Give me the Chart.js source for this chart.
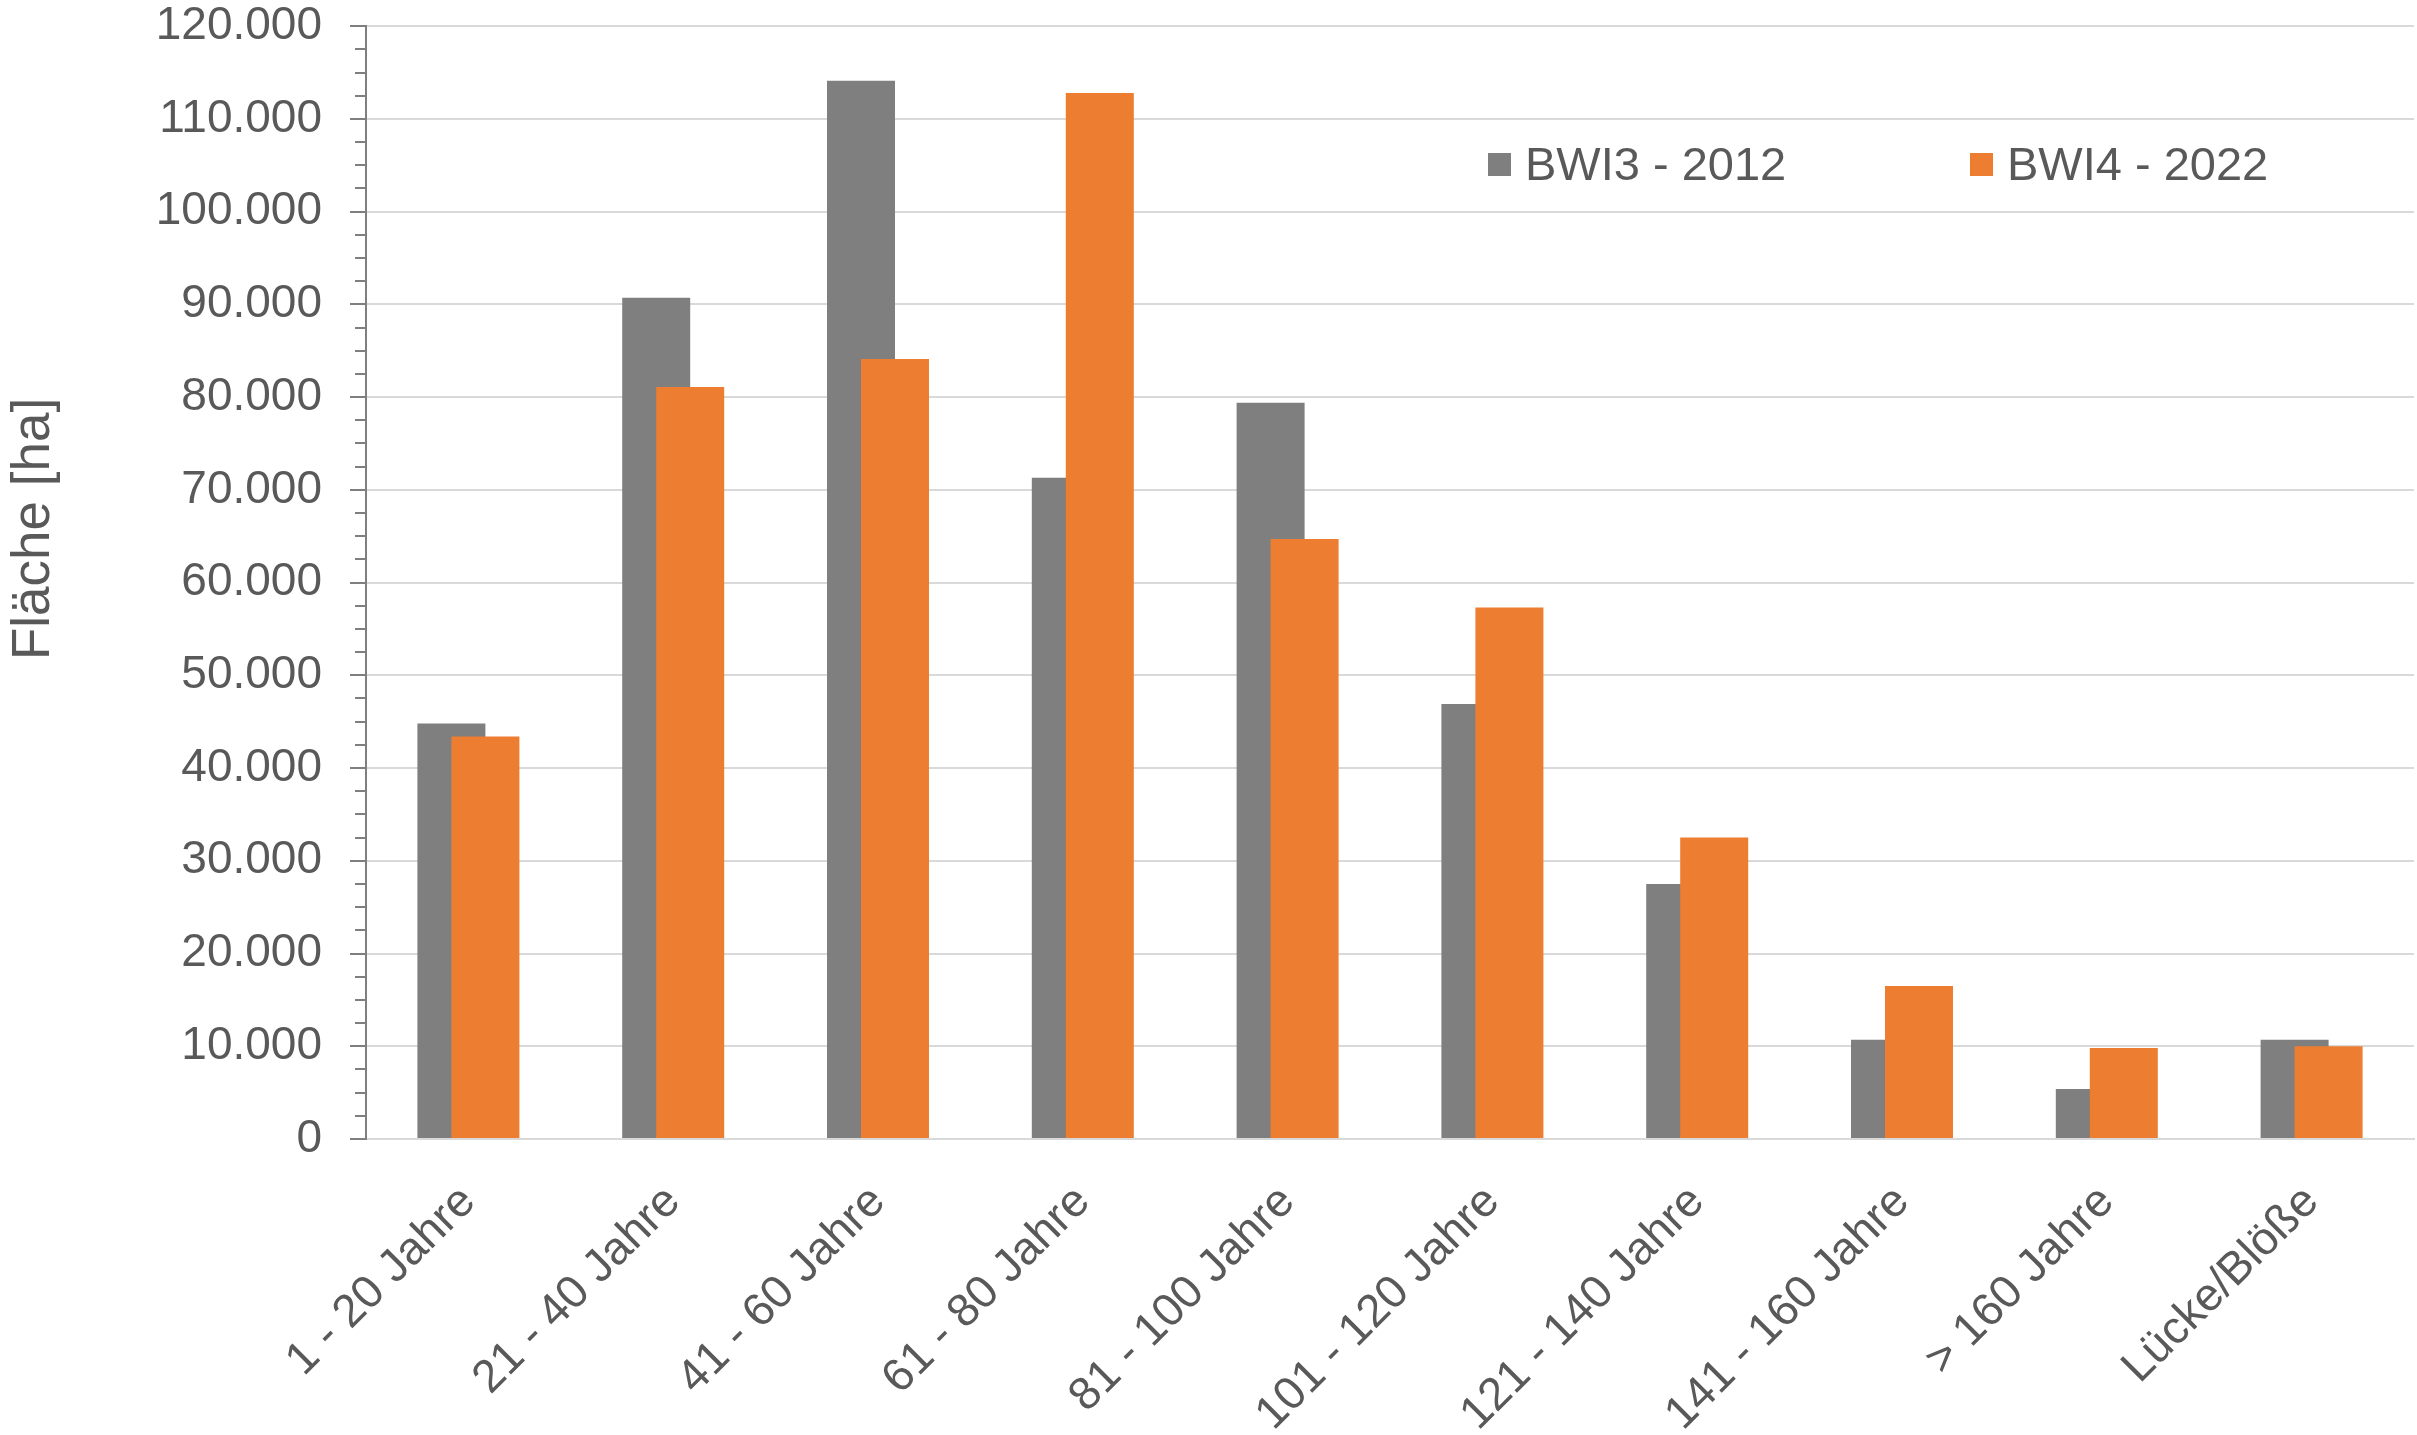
<!DOCTYPE html>
<html lang="de">
<head>
<meta charset="utf-8">
<title>Fläche nach Altersklassen</title>
<script src="https://cdn.jsdelivr.net/npm/chart.js@4.4.1/dist/chart.umd.min.js"></script>
<style>
  html, body { margin: 0; padding: 0; background: #fff; }
  canvas { display: block; }
</style>
</head>
<body>
<canvas id="chart" width="2417" height="1435"></canvas>
<script>
// Altersklassen (x axis)
const categories = [
    '1 - 20 Jahre', '21 - 40 Jahre', '41 - 60 Jahre', '61 - 80 Jahre', '81 - 100 Jahre',
    '101 - 120 Jahre', '121 - 140 Jahre', '141 - 160 Jahre', '> 160 Jahre', 'Lücke/Blöße'
];
const seriesLabels = ['BWI3 - 2012', 'BWI4 - 2022'];
// Fläche in ha
const bwi3 = [44800, 90700, 114100, 71300, 79400, 46900, 27500, 10700, 5400, 10700];
const bwi4 = [43400, 81100, 84100, 112800, 64700, 57300, 32500, 16500, 9800, 10000];
const yMax = 120000;
const yMajor = 10000;
const yMinor = 2500;
const yTitle = 'Fläche [ha]';

const textColor = '#595959';
const fontFamily = '"Liberation Sans", Arial, sans-serif';

// 120000 -> "120.000"
function fmt(v) {
    return String(v).replace(/\B(?=(\d{3})+(?!\d))/g, '.');
}

// orange bars overlap the grey ones, so draw datasets in index order
const drawOrder = {
    id: 'drawOrder',
    beforeDatasetsDraw(chart) {
        chart.getSortedVisibleDatasetMetas().forEach(meta => meta.controller.draw());
        return false;
    }
};

// legend inside the plot and the rotated axis title
const overlay = {
    id: 'overlay',
    afterDraw(chart) {
        const ctx = chart.ctx;
        const legendX = [1488, 1970];
        const legendY = 180;
        ctx.save();
        ctx.font = '47px ' + fontFamily;
        ctx.textBaseline = 'alphabetic';
        chart.data.datasets.forEach((ds, i) => {
            ctx.fillStyle = ds.backgroundColor;
            ctx.fillRect(legendX[i], legendY - 27, 23, 23);
            ctx.fillStyle = textColor;
            ctx.fillText(ds.label, legendX[i] + 37, legendY);
        });

        ctx.translate(34, 529);
        ctx.rotate(-Math.PI / 2);
        ctx.textAlign = 'center';
        ctx.textBaseline = 'middle';
        ctx.font = '53px ' + fontFamily;
        ctx.fillText(yTitle, 0, 0);
        ctx.restore();
    }
};

const isMajor = c => c.tick && c.tick.value % yMajor === 0;

const ctx = document.getElementById('chart').getContext('2d');
const chart = new Chart(ctx, {
    type: 'bar',
    data: {
        labels: categories,
        datasets: [
            {
                label: seriesLabels[0],
                data: bwi3,
                backgroundColor: '#7f7f7f',
                categoryPercentage: 0.332,
                barPercentage: 2.0
            },
            {
                label: seriesLabels[1],
                data: bwi4,
                backgroundColor: '#ed7d31',
                categoryPercentage: 0.332,
                barPercentage: 2.0
            }
        ]
    },
    options: {
        responsive: false,
        animation: false,
        devicePixelRatio: 1,
        layout: { padding: { top: 0, right: 3, left: 0, bottom: 0 } },
        plugins: {
            legend: { display: false },
            tooltip: { enabled: false }
        },
        scales: {
            x: {
                ticks: {
                    color: textColor,
                    font: { family: fontFamily, size: 46 },
                    maxRotation: 45,
                    minRotation: 45,
                    autoSkip: false,
                    padding: 36
                },
                grid: { display: false, drawTicks: false },
                border: { color: '#d9d9d9', width: 2 },
                afterFit: s => { s.height = 296; }
            },
            y: {
                min: 0,
                max: yMax,
                ticks: {
                    stepSize: yMinor,
                    autoSkip: false,
                    color: textColor,
                    font: { family: fontFamily, size: 46, lineHeight: 1.05 },
                    padding: 2,
                    callback: v => (v % yMajor === 0 ? fmt(v) : '')
                },
                grid: {
                    color: c => (isMajor(c) ? '#d9d9d9' : 'rgba(0,0,0,0)'),
                    lineWidth: 2,
                    tickColor: '#7f7f7f',
                    tickLength: 42,
                    tickWidth: 2,
                    // only the part next to the axis is visible, minor ticks shorter
                    tickBorderDash: c => (isMajor(c) ? [0, 26, 16] : [0, 31, 11])
                },
                border: { color: '#7f7f7f', width: 2 },
                afterFit: s => { s.width = 366; }
            }
        }
    },
    plugins: [drawOrder, overlay]
});
</script>
</body>
</html>
